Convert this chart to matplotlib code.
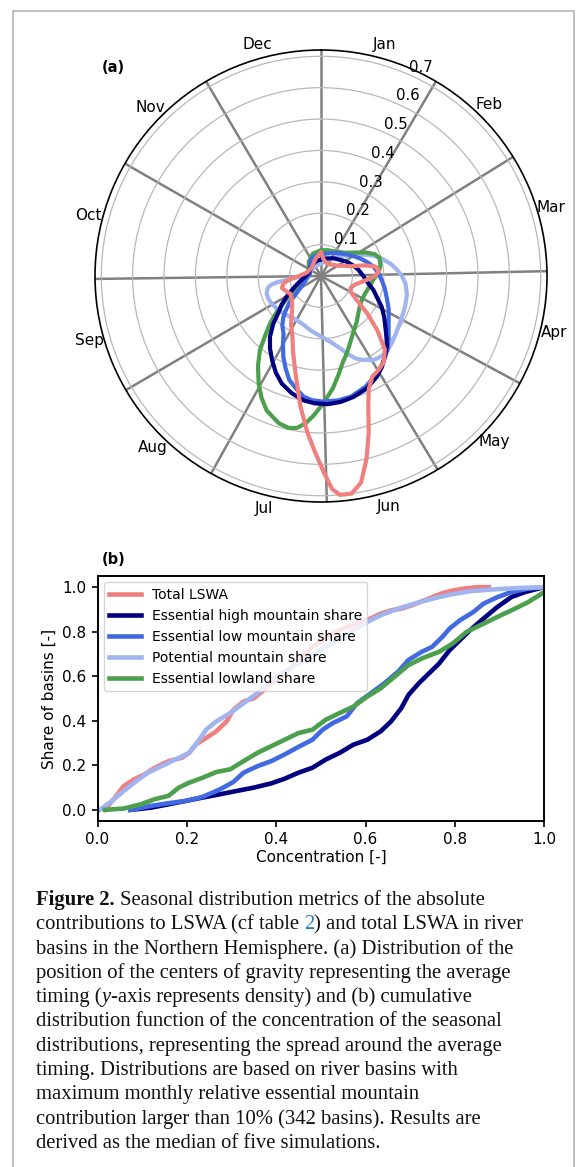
import numpy as np
import matplotlib
matplotlib.use("Agg")
import matplotlib.pyplot as plt
from matplotlib.patches import Rectangle

# ---------------- data ----------------
months = ["Jan", "Feb", "Mar", "Apr", "May", "Jun", "Jul", "Aug", "Sep", "Oct", "Nov", "Dec"]
month_days = [31, 28, 31, 30, 31, 30, 31, 31, 30, 31, 30, 31]
rticks = [0.1, 0.2, 0.3, 0.4, 0.5, 0.6, 0.7]

# (a) density of centre-of-gravity timing, angle in degrees (clockwise from 1 Jan), radius = density
total_deg = [0, 8, 20, 35, 50, 60, 66, 72, 76, 80, 85, 90, 96, 104, 112, 118, 123, 129, 134, 139, 144, 149,
             153, 157, 160, 163, 166, 169, 172, 175, 177, 179, 182, 185, 189, 194, 200, 205, 212, 218, 225,
             232, 240, 247, 253, 259, 264, 270, 285, 305, 325, 345, 355]
total_r = [0.075, 0.055, 0.045, 0.045, 0.055, 0.065, 0.08, 0.10, 0.14, 0.175, 0.186, 0.172, 0.141, 0.112,
           0.102, 0.108, 0.13, 0.19, 0.25, 0.31, 0.34, 0.352, 0.36, 0.39, 0.44, 0.52, 0.60, 0.67, 0.70, 0.70,
           0.68, 0.63, 0.56, 0.50, 0.42, 0.33, 0.26, 0.215, 0.18, 0.151, 0.13, 0.118, 0.113, 0.122, 0.13,
           0.122, 0.10, 0.07, 0.045, 0.04, 0.045, 0.06, 0.07]

high_deg = [0, 15, 35, 50, 61, 72, 80, 90, 98, 105, 112, 117, 123, 128, 133, 137, 142, 146, 151, 158, 165,
            171, 177, 183, 188, 194, 200, 205, 210, 215, 220, 225, 229, 234, 239, 245, 250, 258, 268, 282,
            300, 315, 329, 345]
high_r = [0.053, 0.058, 0.069, 0.08, 0.094, 0.108, 0.12, 0.135, 0.15, 0.173, 0.195, 0.217, 0.24, 0.26,
          0.285, 0.308, 0.329, 0.348, 0.367, 0.387, 0.399, 0.406, 0.409, 0.406, 0.40, 0.385, 0.365, 0.34,
          0.311, 0.283, 0.253, 0.215, 0.181, 0.155, 0.128, 0.10, 0.083, 0.065, 0.05, 0.041, 0.04, 0.043,
          0.047, 0.05]

low_deg = [0, 14, 30, 45, 56, 66, 73, 80, 87, 94, 101, 108, 116, 125, 132, 138, 144, 150, 158, 166, 172,
           179, 184, 188, 192, 197, 201, 205, 209, 213, 218, 222, 225, 230, 235, 242, 255, 270, 284, 300,
           315, 332, 347]
low_r = [0.068, 0.074, 0.085, 0.10, 0.117, 0.137, 0.153, 0.17, 0.183, 0.194, 0.207, 0.22, 0.24, 0.263,
         0.29, 0.316, 0.338, 0.358, 0.38, 0.396, 0.40, 0.40, 0.397, 0.389, 0.37, 0.346, 0.315, 0.284, 0.25,
         0.219, 0.20, 0.18, 0.162, 0.13, 0.095, 0.07, 0.05, 0.04, 0.036, 0.04, 0.05, 0.064, 0.068]

pot_deg = [0, 20, 35, 45, 54, 60, 65, 70, 75, 80, 85, 90, 95, 102, 110, 118, 127, 133, 138, 143, 148, 153,
           157, 161, 165, 171, 178, 185, 191, 200, 209, 217, 225, 233, 241, 247, 252, 257, 260, 262, 264,
           267, 274, 290, 310, 335]
pot_r = [0.04, 0.055, 0.07, 0.09, 0.115, 0.135, 0.16, 0.185, 0.205, 0.225, 0.242, 0.258, 0.27, 0.28, 0.285,
         0.29, 0.30, 0.31, 0.318, 0.32, 0.316, 0.30, 0.286, 0.263, 0.239, 0.215, 0.196, 0.184, 0.176, 0.165,
         0.16, 0.163, 0.169, 0.175, 0.18, 0.183, 0.182, 0.175, 0.162, 0.14, 0.10, 0.075, 0.046, 0.038,
         0.035, 0.036]

lowland_deg = [0, 15, 30, 45, 55, 62, 68, 73, 79, 84, 89, 94, 103, 112, 121, 128, 135, 142, 148, 153, 158,
               162, 166, 170, 174, 179, 183, 186, 189, 192, 196, 202, 206, 210, 215, 219.5, 223, 227, 230,
               234, 240, 245, 251, 265, 280, 300, 320, 340]
lowland_r = [0.082, 0.085, 0.09, 0.105, 0.13, 0.16, 0.185, 0.195, 0.193, 0.187, 0.178, 0.167, 0.157, 0.151,
             0.151, 0.157, 0.168, 0.185, 0.20, 0.217, 0.24, 0.262, 0.285, 0.32, 0.36, 0.406, 0.445, 0.472,
             0.49, 0.495, 0.488, 0.462, 0.432, 0.397, 0.35, 0.306, 0.262, 0.222, 0.19, 0.149, 0.11, 0.09,
             0.071, 0.05, 0.042, 0.045, 0.06, 0.076]

# (b) CDF of concentration
total_x = [0.017, 0.036, 0.059, 0.082, 0.105, 0.128, 0.159, 0.189, 0.205, 0.220, 0.243, 0.266, 0.289, 0.304,
           0.327, 0.350, 0.373, 0.389, 0.412, 0.435, 0.458, 0.481, 0.504, 0.527, 0.558, 0.588, 0.611, 0.634,
           0.657, 0.680, 0.703, 0.734, 0.772, 0.795, 0.818, 0.849, 0.876]
total_y = [0.0, 0.048, 0.107, 0.137, 0.159, 0.189, 0.219, 0.234, 0.256, 0.293, 0.323, 0.353, 0.397, 0.449,
           0.487, 0.501, 0.539, 0.568, 0.598, 0.643, 0.688, 0.732, 0.762, 0.792, 0.821, 0.844, 0.859, 0.881,
           0.896, 0.903, 0.918, 0.943, 0.973, 0.985, 0.993, 1.0, 1.0]

high_x = [0.074, 0.120, 0.159, 0.197, 0.235, 0.274, 0.312, 0.350, 0.389, 0.419, 0.450, 0.481, 0.511, 0.542,
          0.573, 0.604, 0.634, 0.657, 0.680, 0.696, 0.719, 0.742, 0.765, 0.788, 0.811, 0.834, 0.864, 0.895,
          0.926, 0.957, 1.0]
high_y = [0.0, 0.010, 0.025, 0.040, 0.055, 0.070, 0.085, 0.100, 0.119, 0.140, 0.167, 0.189, 0.226, 0.256,
          0.293, 0.315, 0.353, 0.397, 0.457, 0.516, 0.568, 0.613, 0.658, 0.717, 0.762, 0.807, 0.859, 0.911,
          0.955, 0.978, 1.0]

low_x = [0.074, 0.120, 0.159, 0.197, 0.235, 0.274, 0.304, 0.327, 0.358, 0.389, 0.419, 0.450, 0.481, 0.504,
         0.527, 0.558, 0.581, 0.612, 0.642, 0.673, 0.696, 0.726, 0.749, 0.772, 0.788, 0.811, 0.841, 0.864,
         0.895, 0.926, 0.964, 1.0]
low_y = [0.0, 0.018, 0.030, 0.040, 0.058, 0.092, 0.125, 0.167, 0.196, 0.219, 0.249, 0.283, 0.315, 0.360,
         0.390, 0.420, 0.479, 0.524, 0.568, 0.621, 0.673, 0.710, 0.732, 0.777, 0.814, 0.851, 0.888, 0.926,
         0.955, 0.978, 0.993, 1.0]

pot_x = [0.005, 0.028, 0.059, 0.082, 0.113, 0.143, 0.174, 0.205, 0.228, 0.243, 0.266, 0.297, 0.327, 0.358,
         0.389, 0.419, 0.450, 0.481, 0.511, 0.542, 0.573, 0.604, 0.634, 0.672, 0.710, 0.749, 0.788, 0.834,
         0.887, 0.941, 1.0]
pot_y = [0.0, 0.033, 0.085, 0.122, 0.167, 0.196, 0.226, 0.256, 0.315, 0.360, 0.397, 0.435, 0.479, 0.524,
         0.583, 0.621, 0.658, 0.695, 0.732, 0.769, 0.807, 0.844, 0.874, 0.903, 0.926, 0.948, 0.966, 0.982,
         0.990, 0.996, 1.0]

lowland_x = [0.017, 0.059, 0.097, 0.128, 0.159, 0.182, 0.205, 0.235, 0.266, 0.297, 0.327, 0.358, 0.389,
             0.419, 0.450, 0.481, 0.511, 0.542, 0.573, 0.604, 0.634, 0.665, 0.696, 0.726, 0.765, 0.795,
             0.826, 0.864, 0.903, 0.934, 0.964, 1.0]
lowland_y = [0.0, 0.006, 0.025, 0.048, 0.063, 0.100, 0.122, 0.144, 0.170, 0.182, 0.219, 0.256, 0.286,
             0.315, 0.345, 0.360, 0.405, 0.435, 0.464, 0.509, 0.546, 0.598, 0.650, 0.680, 0.710, 0.747,
             0.799, 0.836, 0.874, 0.903, 0.933, 0.978]

labels = ["Total LSWA", "Essential high mountain share", "Essential low mountain share",
          "Potential mountain share", "Essential lowland share"]
colors = ["#F08080", "#000080", "#4169E1", "#A0B4F0", "#4C9F4C"]

caption_lines = [
    [("Figure 2.", {"fontweight": "bold"}, True), ("Seasonal distribution metrics of the absolute", {}, False)],
    [("contributions to LSWA (cf table", {}, True), ("2", {"color": "#2b7bb9"}, False),
     (") and total LSWA in river", {}, False)],
    [("basins in the Northern Hemisphere. (a) Distribution of the", {}, False)],
    [("position of the centers of gravity representing the average", {}, False)],
    [("timing (", {}, False), ("y", {"fontstyle": "italic"}, False),
     ("-axis represents density) and (b) cumulative", {}, False)],
    [("distribution function of the concentration of the seasonal", {}, False)],
    [("distributions, representing the spread around the average", {}, False)],
    [("timing. Distributions are based on river basins with", {}, False)],
    [("maximum monthly relative essential mountain", {}, False)],
    [("contribution larger than 10% (342 basins). Results are", {}, False)],
    [("derived as the median of five simulations.", {}, False)],
]

# ---------------- figure ----------------
W, H = 581, 1167
fig = plt.figure(figsize=(W / 100, H / 100), dpi=100)
fig.patch.set_facecolor("white")

# outer frame
fig.add_artist(Rectangle((13 / W, -0.02), (574 - 13) / W, 1 - 11 / H + 0.02, transform=fig.transFigure,
                         fill=False, edgecolor="#b4b4b4", linewidth=1.2))

# ---- (a) polar ----
cx, cy, R = 321, 276, 226
axp = fig.add_axes([(cx - R) / W, 1 - (cy + R) / H, 2 * R / W, 2 * R / H], projection="polar")
axp.set_theta_zero_location("N")
axp.set_theta_direction(-1)

cum = np.cumsum([0] + month_days)
bounds = cum[:-1] / 365.0 * 2 * np.pi
mids = (cum[:-1] + np.array(month_days) / 2) / 365.0 * 2 * np.pi
axp.set_xticks(bounds)
axp.set_xticklabels([])
axp.set_xticks(mids, minor=True)
axp.set_xticklabels(months, minor=True, fontsize=11)
axp.tick_params(axis="x", which="both", length=0)
axp.tick_params(axis="x", which="minor", pad=3)
axp.xaxis.grid(True, which="major", color="#808080", linewidth=1.8)
axp.xaxis.grid(False, which="minor")
axp.set_ylim(0, 0.72)
axp.set_yticks(rticks)
axp.set_yticklabels([f"{v:.1f}" for v in rticks], fontsize=10.8)
axp.yaxis.grid(True, color="#b8b8b8", linewidth=0.9)
axp.set_rlabel_position(23.5)
axp.spines["polar"].set_linewidth(1.2)

polar_series = [(pot_deg, pot_r, colors[3]), (lowland_deg, lowland_r, colors[4]),
                (low_deg, low_r, colors[2]), (high_deg, high_r, colors[1]),
                (total_deg, total_r, colors[0])]
for deg, r, c in polar_series:
    th = np.deg2rad(list(deg) + [deg[0] + 360])
    rr = list(r) + [r[0]]
    axp.plot(th, rr, color=c, linewidth=3.0, solid_joinstyle="round", solid_capstyle="round")

fig.text(102 / W, 1 - 68 / H, "(a)", fontsize=10.5, fontweight="bold", ha="left", va="center")

# ---- (b) CDF ----
ax_l, ax_r, ax_t, ax_b = 97.5, 544.3, 576, 821
axb = fig.add_axes([ax_l / W, 1 - ax_b / H, (ax_r - ax_l) / W, (ax_b - ax_t) / H])
cdf_series = [(total_x, total_y), (high_x, high_y), (low_x, low_y), (pot_x, pot_y), (lowland_x, lowland_y)]
for (xs, ys), c, lab in zip(cdf_series, colors, labels):
    axb.plot(xs, ys, color=c, linewidth=3.3, label=lab)
axb.set_xlim(0, 1)
axb.set_ylim(-0.05, 1.05)
axb.set_xticks([0, 0.2, 0.4, 0.6, 0.8, 1.0])
axb.set_yticks([0, 0.2, 0.4, 0.6, 0.8, 1.0])
axb.tick_params(labelsize=11, width=1.2, length=4.5)
for s in axb.spines.values():
    s.set_linewidth(1.4)
axb.set_xlabel("Concentration [-]", fontsize=11, labelpad=2)
axb.set_ylabel("Share of basins [-]", fontsize=11)
axb.legend(loc="upper left", fontsize=10, handlelength=2.3, handletextpad=0.75, borderaxespad=0.45,
           labelspacing=0.5)
fig.text(102 / W, 1 - 559 / H, "(b)", fontsize=10.5, fontweight="bold", ha="left", va="center")

# ---- caption ----
renderer = fig.canvas.get_renderer()
serif = "Liberation Serif"


def text_w(s, size, **kw):
    t = fig.text(0, 0, s, fontfamily=serif, fontsize=size, **kw)
    w = t.get_window_extent(renderer).width
    t.remove()
    return w


target = 514 - 36
fs = 13.0
fs = fs * target / text_w(caption_lines[2][0][0], fs)
space_w = text_w("x x", fs) - text_w("xx", fs)

x0, base0, step = 36, 905, 24.3
for i, line in enumerate(caption_lines):
    xpx = x0
    ypx = base0 + i * step
    for txt, kw, sp in line:
        style = {"color": "#111111"}
        style.update(kw)
        t = fig.text(xpx / W, 1 - ypx / H, txt, fontfamily=serif, fontsize=fs, ha="left",
                     va="baseline", **style)
        xpx += t.get_window_extent(renderer).width
        if sp:
            xpx += space_w

fig.savefig("out.png", dpi=100)
